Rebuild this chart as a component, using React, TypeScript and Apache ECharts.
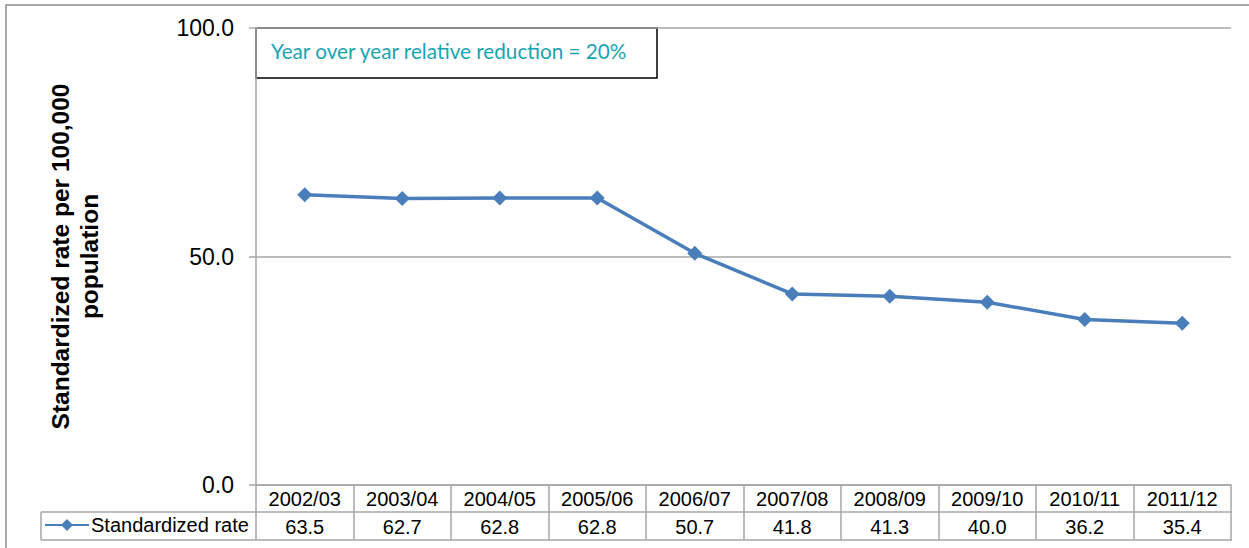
import React, { useEffect, useRef } from "react";
import * as echarts from "echarts";

// Fiscal years and standardized rates per 100,000 population
const years = ["2002/03", "2003/04", "2004/05", "2005/06", "2006/07", "2007/08", "2008/09", "2009/10", "2010/11", "2011/12"];
const rates = [63.5, 62.7, 62.8, 62.8, 50.7, 41.8, 41.3, 40.0, 36.2, 35.4];
const seriesName = "Standardized rate";
const note = "Year over year relative reduction = 20%";

const LINE = "#4a7ebb";
const GRID = "#a6a6a6";
const FONT = "'Liberation Sans', Arial, sans-serif";

export default function App() {
  const ref = useRef<HTMLDivElement>(null);

  useEffect(() => {
    if (!ref.current) return;
    const chart = echarts.init(ref.current, null, { renderer: "svg" });
    chart.setOption({
      animation: false,
      backgroundColor: "#ffffff",
      textStyle: { fontFamily: FONT },
      grid: { left: 256, right: 18, top: 28, bottom: 63 },
      legend: {
        left: 44,
        top: 515,
        itemWidth: 44,
        itemHeight: 15,
        itemGap: 0,
        padding: 0,
        textStyle: { fontSize: 20, color: "#000", fontFamily: FONT, padding: [0, 0, 0, -3] },
        data: [seriesName],
      },
      xAxis: [
        {
          type: "category",
          data: years,
          boundaryGap: true,
          axisLine: { show: true, lineStyle: { color: GRID, width: 1.5 } },
          axisTick: { show: true, interval: 0, length: 55, lineStyle: { color: GRID, width: 1.5 } },
          axisLabel: { interval: 0, margin: 4, fontSize: 20, color: "#000", fontFamily: FONT },
        },
        {
          type: "category",
          data: rates.map((v) => v.toFixed(1)),
          position: "bottom",
          offset: 28,
          boundaryGap: true,
          axisLine: { show: false },
          axisTick: { show: false },
          axisLabel: { interval: 0, margin: 4, fontSize: 20, color: "#000", fontFamily: FONT },
        },
      ],
      yAxis: {
        type: "value",
        min: 0,
        max: 100,
        interval: 50,
        name: "Standardized rate per 100,000\npopulation",
        nameLocation: "middle",
        nameRotate: 90,
        nameGap: 152,
        nameTextStyle: { fontSize: 24.5, fontWeight: "bold", color: "#000", fontFamily: FONT, lineHeight: 29 },
        axisLine: { show: true, lineStyle: { color: GRID, width: 1.5 } },
        axisTick: { show: true, length: 7, lineStyle: { color: GRID, width: 1.5 } },
        axisLabel: { margin: 22, fontSize: 23, color: "#000", fontFamily: FONT, formatter: (v: number) => v.toFixed(1) },
        splitLine: { show: true, lineStyle: { color: GRID, width: 1.5 } },
      },
      series: [
        {
          name: seriesName,
          type: "line",
          data: rates,
          symbol: "diamond",
          symbolSize: 15,
          itemStyle: { color: LINE },
          lineStyle: { color: LINE, width: 3.5 },
        },
      ],
      graphic: [
        // outer chart frame
        { type: "rect", shape: { x: 6, y: 5, width: 1300, height: 600 }, style: { fill: "none", stroke: "#8c8c8c", lineWidth: 1.5 }, silent: true, z: 0 },
        // data table rules
        { type: "line", shape: { x1: 41, y1: 512, x2: 1232, y2: 512 }, style: { stroke: GRID, lineWidth: 1.5 }, silent: true },
        { type: "line", shape: { x1: 41, y1: 540, x2: 1232, y2: 540 }, style: { stroke: GRID, lineWidth: 1.5 }, silent: true },
        { type: "line", shape: { x1: 41, y1: 512, x2: 41, y2: 540 }, style: { stroke: GRID, lineWidth: 1.5 }, silent: true },
        // annotation box
        {
          type: "group",
          z: 100,
          children: [
            { type: "rect", shape: { x: 256, y: 28, width: 401, height: 50 }, style: { fill: "#fff", stroke: "#000", lineWidth: 1.5 } },
            { type: "text", x: 271, y: 51, style: { text: note, fill: "#1aa3b3", fontSize: 20.7, fontFamily: "Lato, 'Open Sans', sans-serif", verticalAlign: "middle" } },
          ],
        },
      ],
    });
    return () => chart.dispose();
  }, []);

  return <div ref={ref} style={{ width: 1249, height: 548, position: "absolute", left: 0, top: 0 }} />;
}
